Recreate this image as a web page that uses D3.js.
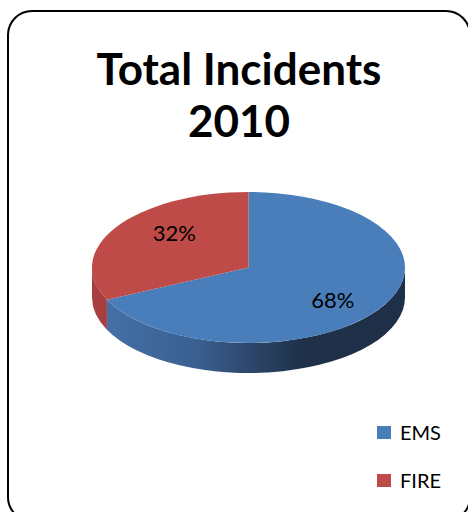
<!DOCTYPE html>
<html>
<head>
<meta charset="utf-8">
<script src="https://cdn.jsdelivr.net/npm/d3@7"></script>
<style>
  body { margin: 0; background: #fff; }
  text { font-family: Lato, "Open Sans", sans-serif; }
</style>
</head>
<body>
<div id="chart"></div>
<script>
const categories = ['EMS', 'FIRE'];
const values = [68, 32];
const labels = ['68%', '32%'];
const colors = ['#4a7ebb', '#be4b48'];
const titleLines = ['Total Incidents', '2010'];

const width = 468, height = 512;
const svg = d3.select('#chart').append('svg')
    .attr('width', width)
    .attr('height', height);

// chart border (rounded, running off the right/bottom edge)
svg.append('rect')
    .attr('x', 8).attr('y', 11)
    .attr('width', 462).attr('height', 510)
    .attr('rx', 24).attr('ry', 24)
    .attr('fill', '#fff')
    .attr('stroke', '#000')
    .attr('stroke-width', 2);

// title
svg.append('text')
    .attr('text-anchor', 'middle')
    .attr('font-weight', 'bold')
    .attr('font-size', 44)
    .selectAll('tspan')
    .data(titleLines)
    .join('tspan')
    .attr('x', 239)
    .attr('y', (d, i) => 85 + i * 52)
    .text(d => d);

// 3D pie geometry
const cx = 248.5, cy = 267.5, rx = 156.5, ry = 75.5, depth = 30;
const pt = (a, dy = 0) => [cx + rx * Math.sin(a), cy - ry * Math.cos(a) + dy];

const pie = d3.pie().sort(null)
    .startAngle(0).endAngle(2 * Math.PI);
const arcs = pie(values);

const defs = svg.append('defs');
const sideGrad = [
    ['#4672aa', '#3a6090', '#1f3049', '#1e2f47'],
    ['#a8403e', '#8e3533', '#6e2826', '#6e2826']
];
sideGrad.forEach((stops, i) => {
    const g = defs.append('linearGradient')
        .attr('id', 'side' + i)
        .attr('gradientUnits', 'userSpaceOnUse')
        .attr('x1', cx - rx).attr('x2', cx + rx)
        .attr('y1', 0).attr('y2', 0);
    g.selectAll('stop').data(stops).join('stop')
        .attr('offset', (d, j) => j / (stops.length - 1))
        .attr('stop-color', d => d);
});

function wallPath(a0, a1) {
    const s = Math.max(a0, Math.PI / 2), e = Math.min(a1, 3 * Math.PI / 2);
    if (e <= s) return null;
    const p0 = pt(s), p1 = pt(e), q1 = pt(e, depth), q0 = pt(s, depth);
    const large = (e - s) > Math.PI ? 1 : 0;
    return `M${p0}A${rx},${ry} 0 ${large} 1 ${p1}L${q1}A${rx},${ry} 0 ${large} 0 ${q0}Z`;
}

function topPath(a0, a1) {
    const p0 = pt(a0), p1 = pt(a1);
    const large = (a1 - a0) > Math.PI ? 1 : 0;
    return `M${cx},${cy}L${p0}A${rx},${ry} 0 ${large} 1 ${p1}Z`;
}

const pieG = svg.append('g');

pieG.selectAll('path.wall')
    .data(arcs.filter(d => wallPath(d.startAngle, d.endAngle)))
    .join('path')
    .attr('class', 'wall')
    .attr('d', d => wallPath(d.startAngle, d.endAngle))
    .attr('fill', d => `url(#side${d.index})`);

pieG.selectAll('path.top')
    .data(arcs)
    .join('path')
    .attr('class', 'top')
    .attr('d', d => topPath(d.startAngle, d.endAngle))
    .attr('fill', d => colors[d.index]);

// slice labels
pieG.selectAll('text.lbl')
    .data(arcs)
    .join('text')
    .attr('class', 'lbl')
    .attr('text-anchor', 'middle')
    .attr('font-size', 22)
    .attr('x', d => {
        const a = (d.startAngle + d.endAngle) / 2;
        return cx + 5 + rx * 0.6 * Math.sin(a);
    })
    .attr('y', d => {
        const a = (d.startAngle + d.endAngle) / 2;
        return cy - ry * 0.82 * Math.cos(a) + 7;
    })
    .text((d, i) => labels[i]);

// legend
const legend = svg.append('g')
    .selectAll('g')
    .data(categories)
    .join('g')
    .attr('transform', (d, i) => `translate(377,${426 + i * 48})`);

legend.append('rect')
    .attr('width', 14).attr('height', 13)
    .attr('fill', (d, i) => colors[i]);

legend.append('text')
    .attr('x', 23).attr('y', 14)
    .attr('font-size', 20)
    .text(d => d);
</script>
</body>
</html>
